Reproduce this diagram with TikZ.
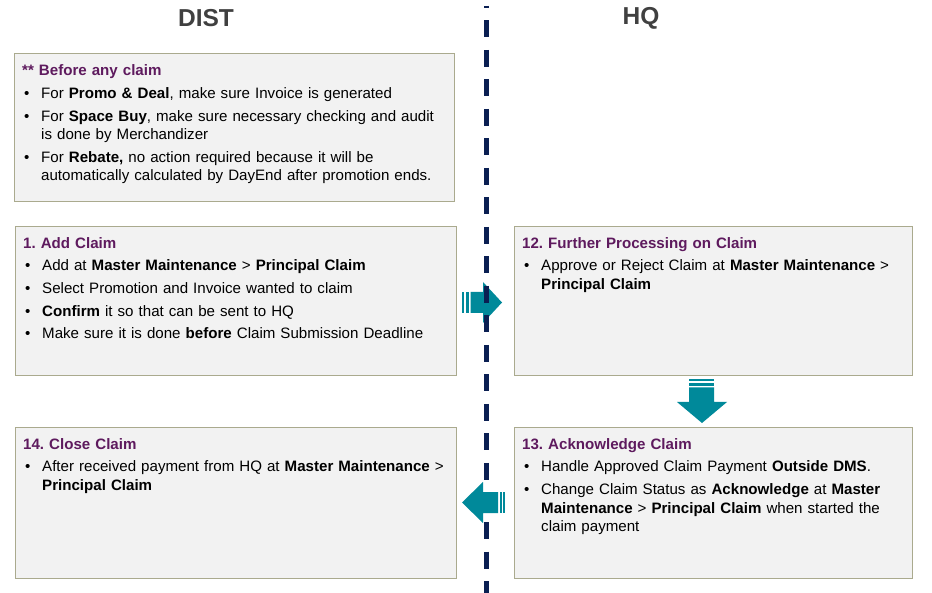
\documentclass[tikz,border=0pt]{standalone}
\usepackage{fontspec}
\setmainfont{Liberation Sans}
\definecolor{boxfill}{HTML}{F2F2F2}
\definecolor{boxline}{HTML}{AAAA8E}
\definecolor{hdcol}{HTML}{5E1A5E}
\definecolor{teal}{HTML}{00899A}
\definecolor{navy}{HTML}{0A1F52}
\definecolor{ttl}{HTML}{404040}
\newcommand{\hd}[1]{\textcolor{hdcol}{\bfseries #1}}
\newcommand{\bul}{\par\vspace{4.2pt}\noindent\hangindent=19pt\hangafter=1\makebox[19pt][l]{\hspace{2pt}\textbullet}}
\tikzset{
  x=1pt,y=-1pt,
  panel/.style={draw=boxline,line width=1.3pt,fill=boxfill,rectangle,inner sep=0pt,anchor=north west},
  ptext/.style={anchor=north west,inner sep=0pt,text width=440pt,font=\fontsize{15.1}{18.5}\selectfont\frenchspacing},
  title/.style={font=\fontsize{24.5}{28}\selectfont\bfseries,text=ttl,inner sep=0pt},
  blk/.style={fill=teal,draw=none},
}
\begin{document}
\begin{tikzpicture}
\useasboundingbox (0,0) rectangle (932,593);
\fill[white] (0,0) rectangle (932,593);

\node[title] (tdist) at (206,18.5) {DIST};
\node[title] (thq) at (641,18.5) {HQ};

\node[panel,minimum width=440pt,minimum height=148pt] (b0) at (14,53) {};
\node[panel,minimum width=441pt,minimum height=149pt] (b1) at (15,226) {};
\node[panel,minimum width=398pt,minimum height=149pt] (b12) at (514,226) {};
\node[panel,minimum width=441pt,minimum height=151pt] (b14) at (15,427) {};
\node[panel,minimum width=398pt,minimum height=151pt] (b13) at (514,427) {};

\node[ptext] (t0) at (22,64.5) {\noindent\hd{** Before any claim}
\bul For \textbf{Promo \& Deal}, make sure Invoice is generated
\bul For \textbf{Space Buy}, make sure necessary checking and audit\newline is done by Merchandizer
\bul For \textbf{Rebate,} no action required because it will be\newline automatically calculated by DayEnd after promotion ends.\par};

\node[ptext] (t1) at (23,237) {\noindent\hd{1. Add Claim}
\bul Add at \textbf{Master Maintenance} > \textbf{Principal Claim}
\bul Select Promotion and Invoice wanted to claim
\bul \textbf{Confirm} it so that can be sent to HQ
\bul Make sure it is done \textbf{before} Claim Submission Deadline\par};

\node[ptext] (t12) at (522,237) {\noindent\hd{12. Further Processing on Claim}
\bul Approve or Reject Claim at \textbf{Master Maintenance} >\newline \textbf{Principal Claim}\par};

\node[ptext] (t14) at (23,438) {\noindent\hd{14. Close Claim}
\bul After received payment from HQ at \textbf{Master Maintenance} >\newline \textbf{Principal Claim}\par};

\node[ptext] (t13) at (522,438) {\noindent\hd{13. Acknowledge Claim}
\bul Handle Approved Claim Payment \textbf{Outside DMS}.
\bul Change Claim Status as \textbf{Acknowledge} at \textbf{Master}\newline \textbf{Maintenance} > \textbf{Principal Claim} when started the\newline claim payment\par};

% right arrow (under the dashed line)
\fill[blk] (462,292) rectangle (464.3,313);
\fill[blk] (466.3,292) rectangle (468.6,313);
\fill[blk] (470.5,292) -- (483,292) -- (483,282) -- (502,302.5) -- (483,323) -- (483,313) -- (470.5,313) -- cycle;

% dashed divider
\draw[navy,line width=4.5pt,dash pattern=on 17pt off 12.5pt,dash phase=15pt] (486.5,6) -- (486.5,593);

% left arrow (over the dashed line)
\fill[blk] (462,502.5) -- (483,482) -- (483,492) -- (498,492) -- (498,513) -- (483,513) -- (483,523) -- cycle;
\fill[blk] (499.6,492) rectangle (501.6,513);
\fill[blk] (503,492) rectangle (505.2,513);

% down arrow
\fill[blk] (689,379) rectangle (714,381.3);
\fill[blk] (689,383.3) rectangle (714,385.6);
\fill[blk] (689,387.5) -- (714,387.5) -- (714,402) -- (727,402) -- (702,423) -- (677,402) -- (689,402) -- cycle;
\end{tikzpicture}
\end{document}
